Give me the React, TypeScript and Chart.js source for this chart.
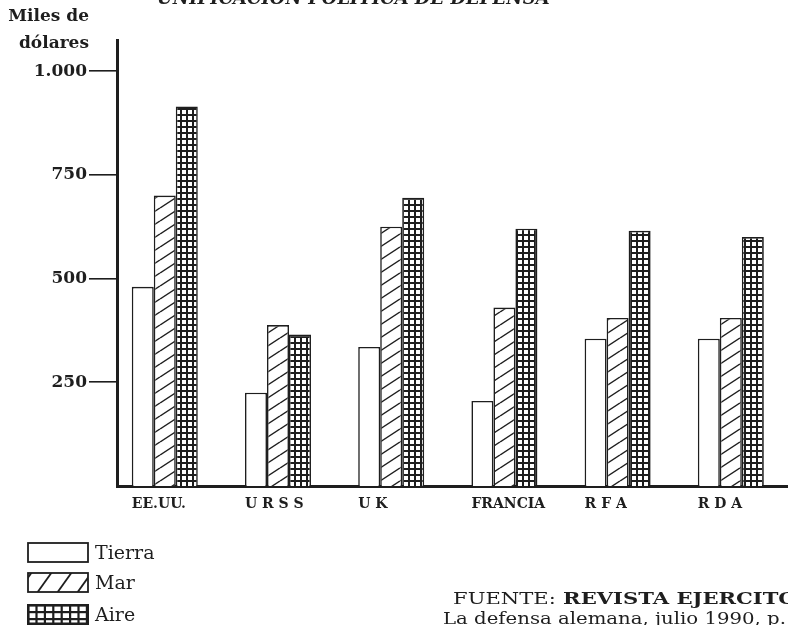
import React, { useEffect, useRef } from "react";
import { Chart, registerables } from "chart.js";

Chart.register(...registerables);

// ---- data ----
const categories = ["EE.UU.", "U R S S", "U K", "FRANCIA", "R F A", "R D A"];
const seriesNames = ["Tierra", "Mar", "Aire"];
const tierra = [480, 225, 335, 205, 355, 355];
const mar = [700, 388, 625, 430, 405, 405];
const aire = [915, 365, 695, 620, 615, 600];
const yTicks = [250, 500, 750, 1000];
const yTickLabels = ["250", "500", "750", "1.000"];
const titleText = "UNIFICACION POLITICA DE DEFENSA";
const unitLines = ["Miles de", "dólares"];
const sourceBold = "REVISTA EJERCITO";
const sourceLabel = "FUENTE:";
const sourceLine2 = "La defensa alemana, julio 1990, p.";

const INK = "#1e1e1e";
const FONT = "'DejaVu Serif', 'Liberation Serif', serif";

function makeHatch(w: number, h: number, lw: number): CanvasPattern | string {
  const c = document.createElement("canvas");
  c.width = w;
  c.height = h;
  const g = c.getContext("2d");
  if (!g) return "#fff";
  g.fillStyle = "#fff";
  g.fillRect(0, 0, w, h);
  g.strokeStyle = INK;
  g.lineWidth = lw;
  for (const dy of [-h, 0, h]) {
    g.beginPath();
    g.moveTo(0, h + dy);
    g.lineTo(w, dy);
    g.stroke();
  }
  return g.createPattern(c, "repeat") || "#fff";
}

function makeGrid(w: number, h: number, lw: number): CanvasPattern | string {
  const c = document.createElement("canvas");
  c.width = w;
  c.height = h;
  const g = c.getContext("2d");
  if (!g) return "#fff";
  g.fillStyle = "#fff";
  g.fillRect(0, 0, w, h);
  g.fillStyle = INK;
  g.fillRect(0, 0, w, lw);
  g.fillRect(0, 0, lw, h);
  return g.createPattern(c, "repeat") || "#fff";
}

function LegendBox({ kind }: { kind: number }) {
  const ref = useRef<HTMLCanvasElement | null>(null);
  useEffect(() => {
    const c = ref.current;
    if (!c) return;
    const g = c.getContext("2d");
    if (!g) return;
    const W = c.width;
    const H = c.height;
    g.clearRect(0, 0, W, H);
    g.fillStyle = "#fff";
    g.fillRect(0, 0, W, H);
    g.strokeStyle = INK;
    g.fillStyle = INK;
    if (kind === 1) {
      g.save();
      g.beginPath();
      g.rect(1, 1, W - 2, H - 2);
      g.clip();
      g.lineWidth = 1.8;
      for (let x = -10; x < W + 20; x += 20) {
        g.beginPath();
        g.moveTo(x, H);
        g.lineTo(x + 15, 0);
        g.stroke();
      }
      g.restore();
    } else if (kind === 2) {
      for (let x = 0; x < W; x += 8.4) g.fillRect(x, 0, 2.2, H);
      for (let y = 0; y < H; y += 7) g.fillRect(0, y, W, 2.2);
    }
    g.lineWidth = kind === 2 ? 3 : 1.8;
    g.strokeRect(1, 1, W - 2, H - 2);
  }, [kind]);
  return <canvas ref={ref} width={62} height={21} style={{ display: "block" }} />;
}

export default function App() {
  const canvasRef = useRef<HTMLCanvasElement | null>(null);

  useEffect(() => {
    const canvas = canvasRef.current;
    if (!canvas) return;
    const hatch = makeHatch(20, 13, 1.4);
    const grid = makeGrid(6, 6, 2);
    const fills: (CanvasPattern | string)[] = ["#ffffff", hatch, grid];
    const series = [tierra, mar, aire];

    const chart = new Chart(canvas, {
      type: "bar",
      data: {
        datasets: series.map((vals, si) => ({
          label: seriesNames[si],
          data: vals.map((v, i) => ({ x: i, y: v })),
          backgroundColor: fills[si] as any,
          borderColor: INK,
          borderWidth: 1.6,
          borderSkipped: "start",
          categoryPercentage: 0.583,
          barPercentage: 1.0,
          inflateAmount: 0,
        })),
      },
      options: {
        responsive: false,
        animation: false,
        events: [],
        layout: { padding: { top: 40, left: 0, right: 0, bottom: 0 } },
        plugins: {
          legend: { display: false },
          tooltip: { enabled: false },
          title: { display: false },
        },
        scales: {
          x: {
            type: "linear",
            min: -0.422,
            max: 5.505,
            offset: false,
            grid: { display: false, drawTicks: false },
            border: { display: true, color: INK, width: 3 },
            afterBuildTicks: (s: any) => {
              s.ticks = categories.map((_, i) => ({ value: i }));
            },
            afterFit: (s: any) => {
              s.height = 139;
            },
            ticks: {
              autoSkip: false,
              maxRotation: 0,
              align: "start",
              labelOffset: -33,
              padding: 10,
              color: INK,
              font: { family: FONT, size: 14, weight: "bold" },
              callback: (_v: any, i: number) => categories[i] ?? "",
            },
          },
          y: {
            min: 0,
            max: 1075,
            afterBuildTicks: (s: any) => {
              s.ticks = yTicks.map((v) => ({ value: v }));
            },
            afterFit: (s: any) => {
              s.width = 117;
            },
            grid: {
              drawOnChartArea: false,
              drawTicks: true,
              tickLength: 28,
              color: INK,
              lineWidth: 1.6,
            },
            border: { display: true, color: INK, width: 3 },
            ticks: {
              padding: 2,
              color: INK,
              font: { family: FONT, size: 17, weight: "bold" },
              callback: (_v: any, i: number) => yTickLabels[i] ?? "",
            },
          },
        },
      } as any,
    });
    return () => chart.destroy();
  }, []);

  const legendTops = [542, 572, 604];

  return (
    <div
      style={{
        position: "fixed",
        left: 0,
        top: 0,
        width: 788,
        height: 625,
        overflow: "hidden",
        background: "#fff",
        color: INK,
        fontFamily: FONT,
      }}
    >
      <canvas
        ref={canvasRef}
        width={788}
        height={625}
        style={{ position: "absolute", left: 0, top: 0, display: "block" }}
      />
      <div
        style={{
          position: "absolute",
          left: 157,
          top: -11,
          fontSize: 18,
          lineHeight: "18px",
          fontWeight: "bold",
          fontStyle: "italic",
          whiteSpace: "nowrap",
        }}
      >
        {titleText}
      </div>
      {unitLines.map((t, i) => (
        <div
          key={t}
          style={{
            position: "absolute",
            left: 0,
            width: 89,
            top: i === 0 ? 5 : 32,
            textAlign: "right",
            fontSize: 17,
            lineHeight: "20px",
            fontWeight: "bold",
            whiteSpace: "nowrap",
          }}
        >
          {t}
        </div>
      ))}
      {seriesNames.map((n, i) => (
        <div
          key={n}
          style={{
            position: "absolute",
            left: 27,
            top: legendTops[i],
            display: "flex",
            alignItems: "center",
            gap: 6,
          }}
        >
          <LegendBox kind={i} />
          <span style={{ fontSize: 19, lineHeight: "21px", whiteSpace: "nowrap" }}>{n}</span>
        </div>
      ))}
      <div
        style={{
          position: "absolute",
          left: 453,
          top: 589,
          fontSize: 17,
          lineHeight: "18px",
          whiteSpace: "nowrap",
          transform: "scaleX(1.24)",
          transformOrigin: "0 0",
        }}
      >
        <span>{sourceLabel}</span>
        <span style={{ fontWeight: "bold" }}>{" " + sourceBold}</span>
      </div>
      <div
        style={{
          position: "absolute",
          left: 443,
          top: 610,
          fontSize: 16,
          lineHeight: "17px",
          whiteSpace: "nowrap",
          transform: "scaleX(1.23)",
          transformOrigin: "0 0",
        }}
      >
        {sourceLine2}
      </div>
    </div>
  );
}
